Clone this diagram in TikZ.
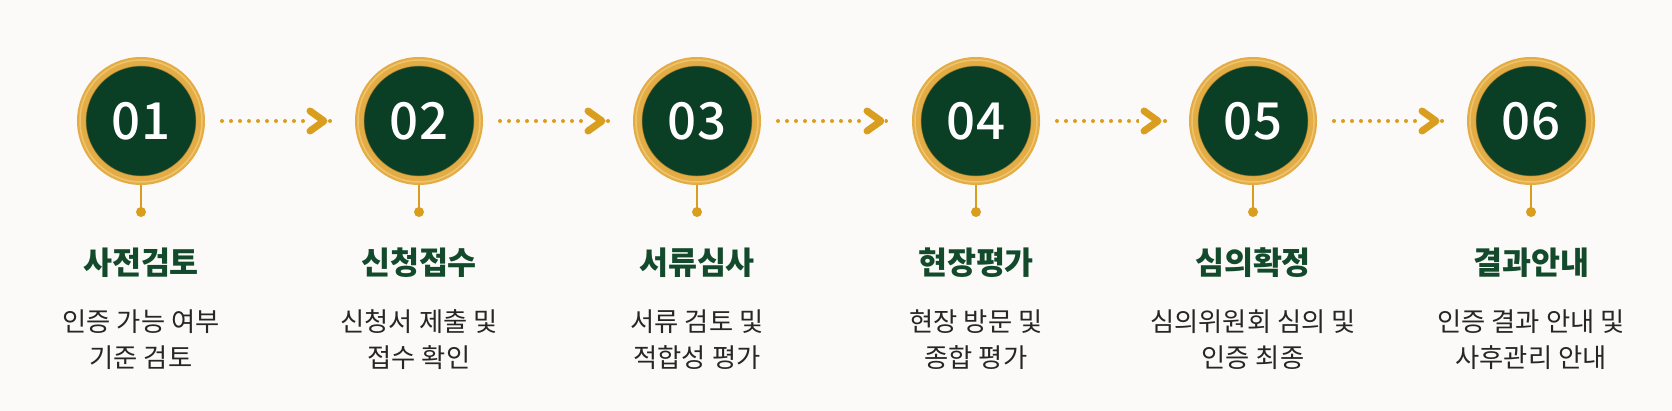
\documentclass[tikz,border=0pt]{standalone}
\usepackage{fontspec}
\setmainfont{Noto Sans CJK KR}
\newfontfamily\numfont{Noto Sans CJK KR Medium}
\definecolor{bgc}{HTML}{FBFAF8}
\definecolor{dkgreen}{HTML}{0B3F25}
\definecolor{ttlgreen}{HTML}{134A2C}
\definecolor{ringgold}{HTML}{E3AC45}
\definecolor{lightgold}{HTML}{F2CB78}
\definecolor{arrowgold}{HTML}{D99E1E}
\tikzset{
  stepcircle/.style={circle, inner sep=0pt, minimum size=119pt, fill=dkgreen, draw=ringgold, line width=9pt,
     text=white, font=\fontsize{51}{51}\selectfont\numfont},
  steptitle/.style={text=ttlgreen, font=\fontsize{31.5}{34}\selectfont\bfseries, inner sep=0pt},
  stepdesc/.style={text=black!85, font=\fontsize{26.3}{36}\selectfont, align=center, inner sep=0pt},
  stem/.style={draw=arrowgold, line width=2.2pt},
  stemdot/.style={circle, fill=arrowgold, inner sep=0pt, minimum size=10pt},
  dotline/.style={draw=arrowgold, line width=4pt, line cap=round, dash pattern=on 0pt off 9pt},
  chevron/.style={draw=arrowgold, line width=7pt, line cap=round, line join=round},
}
\begin{document}
\begin{tikzpicture}[x=1pt,y=-1pt]
\fill[bgc] (0,0) rectangle (1672,411);
\useasboundingbox (0,0) rectangle (1672,411);
\foreach \i/\x/\t/\la/\lb in {
  1/141/사전검토/인증 가능 여부/기준 검토,
  2/419/신청접수/신청서 제출 및/접수 확인,
  3/697/서류심사/서류 검토 및/적합성 평가,
  4/976/현장평가/현장 방문 및/종합 평가,
  5/1253/심의확정/심의위원회 심의 및/인증 최종,
  6/1531/결과안내/인증 결과 안내 및/사후관리 안내}{
  \node[stepcircle] (c\i) at (\x,121) {0\i};
  \draw[lightgold, line width=1.5pt, opacity=0.8] (c\i.center) circle[radius=61pt];
  \draw[ringgold!70!black, line width=0.8pt, opacity=0.5] (c\i.center) circle[radius=55pt];
  \node[stemdot] (s\i) at (\x,212) {};
  \draw[stem] (c\i.south) -- (s\i.center);
  \node[steptitle] (t\i) at (\x,263) {\t};
  \node[stepdesc] (d\i) at (\x,340) {\la\\\lb};
}
\foreach \a/\b in {1/2,2/3,3/4,4/5,5/6}{
  \coordinate (st\a) at ([xshift=17pt]c\a.east);
  \coordinate (en\a) at ([xshift=-19pt]c\b.west);
  \coordinate (tip\a) at ([xshift=-31pt]c\b.west);
  \draw[dotline] (st\a) -- (en\a);
  \fill[bgc] ([xshift=-19pt,yshift=-16pt]tip\a) rectangle ([xshift=4pt,yshift=16pt]tip\a);
  \draw[chevron] ([xshift=-14pt,yshift=-10pt]tip\a) -- (tip\a) -- ([xshift=-14pt,yshift=10pt]tip\a);
}
\end{tikzpicture}
\end{document}
